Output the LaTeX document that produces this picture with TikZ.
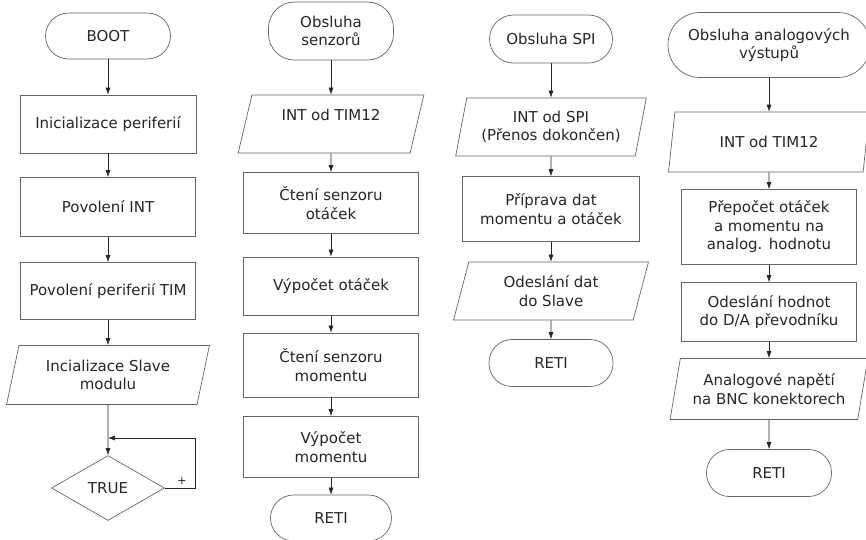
\documentclass[tikz,border=0pt]{standalone}
\usepackage{fontspec}
\setmainfont{DejaVu Sans}
\usetikzlibrary{shapes.geometric,arrows.meta}

\tikzset{
  every node/.style={font=\fontsize{15}{18.5}\selectfont, text=black!85},
  term/.style={draw=black!60, line width=0.7pt, rounded corners=#1, align=center, inner sep=0pt},
  box/.style={draw=black!60, line width=0.7pt, align=center, inner sep=0pt, minimum width=175pt, minimum height=#1},
  io/.style={draw=black!60, line width=0.7pt, trapezium, trapezium left angle=74, trapezium right angle=106,
    trapezium stretches=true, align=center, inner sep=0pt},
  cond/.style={draw=black!60, line width=0.7pt, diamond, inner sep=0pt},
  flow/.style={-{Latex[length=7pt,width=5pt]}, line width=0.6pt, black!85}
}

\begin{document}
\begin{tikzpicture}[x=1pt,y=-1pt]
                \useasboundingbox (0,0) rectangle (866,539);
                \clip (0,0) rectangle (866,539);

                \node[term=23pt, minimum width=125pt, minimum height=46pt] (boot) at (108,36) {BOOT};
                \node[box=58pt, minimum width=176pt] (initper) at (108,124) {Inicializace periferií};
                \node[box=59pt] (enint) at (108,207) {Povolení INT};
                \node[box=57pt] (entim) at (108,291) {Povolení periferií TIM};
                \node[io, minimum width=203pt, minimum height=59pt] (slave) at (108,375) {Incializace Slave\\modulu};
                \node[cond, minimum width=113pt, minimum height=65pt] (true) at (108,488) {TRUE};
                \coordinate (loopup) at (195,438);
                \coordinate (loopin) at (108,438);
                \node[font=\fontsize{11}{12}\selectfont] (plus) at (182,481) {+};

                \node[term=26pt, minimum width=125pt, minimum height=58pt] (senz) at (331,31) {Obsluha\\senzorů};
                \node[io, minimum width=186pt, minimum height=58pt] (tim) at (331,124) {INT od TIM12\\\mbox{}};
                \node[box=61pt] (cteniot) at (331,203) {Čtení senzoru\\otáček};
                \node[box=58pt] (vypot) at (331,286) {Výpočet otáček};
                \node[box=64pt] (ctenimo) at (331,365) {Čtení senzoru\\momentu};
                \node[box=61pt] (vypmo) at (331,447) {Výpočet\\momentu};
                \node[term=23pt, minimum width=121pt, minimum height=46pt] (reti) at (331,518) {RETI};

                \node[term=24pt, minimum width=123pt, minimum height=48pt] (spi) at (551,39) {Obsluha SPI};
                \node[io, minimum width=191pt, minimum height=58pt] (intspi) at (551,127) {INT od SPI\\(Přenos dokončen)};
                \node[box=65pt, minimum width=177pt] (prip) at (551,209) {Příprava dat\\momentu a otáček};
                \node[io, minimum width=195pt, minimum height=58pt] (odes) at (551,291) {Odeslání dat\\do Slave};
                \node[term=23pt, minimum width=124pt, minimum height=47pt] (retispi) at (551,363) {RETI};

                \node[term=32pt, minimum width=202pt, minimum height=65pt] (anal) at (769,45) {Obsluha analogových\\výstupů};
                \node[io, minimum width=201pt, minimum height=60pt] (timan) at (769,142) {INT od TIM12};
                \node[box=75pt] (prep) at (769,227) {Přepočet otáček\\a momentu na\\analog. hodnotu};
                \node[box=59pt] (odesda) at (769,312) {Odeslání hodnot\\do D/A převodníku};
                \node[io, minimum width=198pt, minimum height=61pt] (bnc) at (769,389) {Analogové napětí\\na BNC konektorech};
                \node[term=23pt, minimum width=125pt, minimum height=47pt] (retian) at (769,473) {RETI};

                \draw[flow] (boot) -- (initper);
                \draw[flow] (initper) -- (enint);
                \draw[flow] (enint) -- (entim);
                \draw[flow] (entim) -- (slave);
                \draw[flow] (slave) -- (true);
                \draw[flow] (true.east) -| (loopup) -- (loopin);

                \draw[flow] (senz) -- (tim);
                \draw[flow] (tim) -- (cteniot);
                \draw[flow] (cteniot) -- (vypot);
                \draw[flow] (vypot) -- (ctenimo);
                \draw[flow] (ctenimo) -- (vypmo);
                \draw[flow] (vypmo) -- (reti);

                \draw[flow] (spi) -- (intspi);
                \draw[flow] (intspi) -- (prip);
                \draw[flow] (prip) -- (odes);
                \draw[flow] (odes) -- (retispi);

                \draw[flow] (anal) -- (timan);
                \draw[flow] (timan) -- (prep);
                \draw[flow] (prep) -- (odesda);
                \draw[flow] (odesda) -- (bnc);
                \draw[flow] (bnc) -- (retian);
            \end{tikzpicture}
\end{document}
